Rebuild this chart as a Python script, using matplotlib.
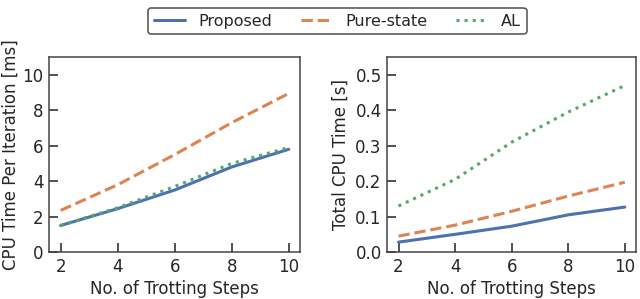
import matplotlib
matplotlib.use("Agg")
import matplotlib.pyplot as plt
import seaborn as sns

sns.set_theme(style="ticks", palette="deep")
plt.rcParams['font.family'] = ['DejaVu Sans']

steps = [2, 4, 6, 8, 10]

# CPU time per iteration [ms]
per_iter_proposed = [1.5, 2.45, 3.5, 4.8, 5.8]
per_iter_pure = [2.35, 3.8, 5.5, 7.3, 8.95]
per_iter_al = [1.5, 2.5, 3.7, 5.0, 5.9]

# total CPU time [s]
total_proposed = [0.028, 0.05, 0.073, 0.105, 0.127]
total_pure = [0.045, 0.076, 0.115, 0.158, 0.197]
total_al = [0.13, 0.205, 0.31, 0.395, 0.47]

colors = sns.color_palette("deep")
blue, orange, green = colors[0], colors[1], colors[2]

fig = plt.figure(figsize=(6.4, 2.99), dpi=100)
ax1 = fig.add_axes([0.077, 0.157, 0.392, 0.652])
ax2 = fig.add_axes([0.605, 0.157, 0.389, 0.652])

lw = 2.2
ax1.plot(steps, per_iter_proposed, color=blue, lw=lw, label='Proposed')
ax1.plot(steps, per_iter_pure, color=orange, lw=lw, ls='--', label='Pure-state')
ax1.plot(steps, per_iter_al, color=green, lw=lw, ls=':', label='AL')
ax1.set_ylim(0, 11)
ax1.set_yticks([0, 2, 4, 6, 8, 10])
ax1.set_ylabel('CPU Time Per Iteration [ms]', fontsize=12, labelpad=2)

ax2.plot(steps, total_proposed, color=blue, lw=lw)
ax2.plot(steps, total_pure, color=orange, lw=lw, ls='--')
ax2.plot(steps, total_al, color=green, lw=lw, ls=':')
ax2.set_ylim(0, 0.55)
ax2.set_yticks([0, 0.1, 0.2, 0.3, 0.4, 0.5])
ax2.set_ylabel('Total CPU Time [s]', fontsize=12, labelpad=4)

for ax in (ax1, ax2):
    ax.set_xlim(1.6, 10.4)
    ax.set_xticks(steps)
    ax.set_xlabel('No. of Trotting Steps', fontsize=12, labelpad=3)
    ax.tick_params(labelsize=12, direction='in', length=6.5, width=1.2,
                   color='#333333', labelcolor='#262626', pad=4)
    for s in ax.spines.values():
        s.set_color('#444444')
        s.set_linewidth(1.1)

leg = fig.legend(loc='upper center', bbox_to_anchor=(0.527, 1.0), ncol=3, frameon=True,
                 fontsize=11.5, edgecolor='#222222', handlelength=2, columnspacing=1.8,
                 borderpad=0.35, fancybox=True)
leg.get_frame().set_linewidth(1.1)

fig.savefig('out.png', dpi=100)
